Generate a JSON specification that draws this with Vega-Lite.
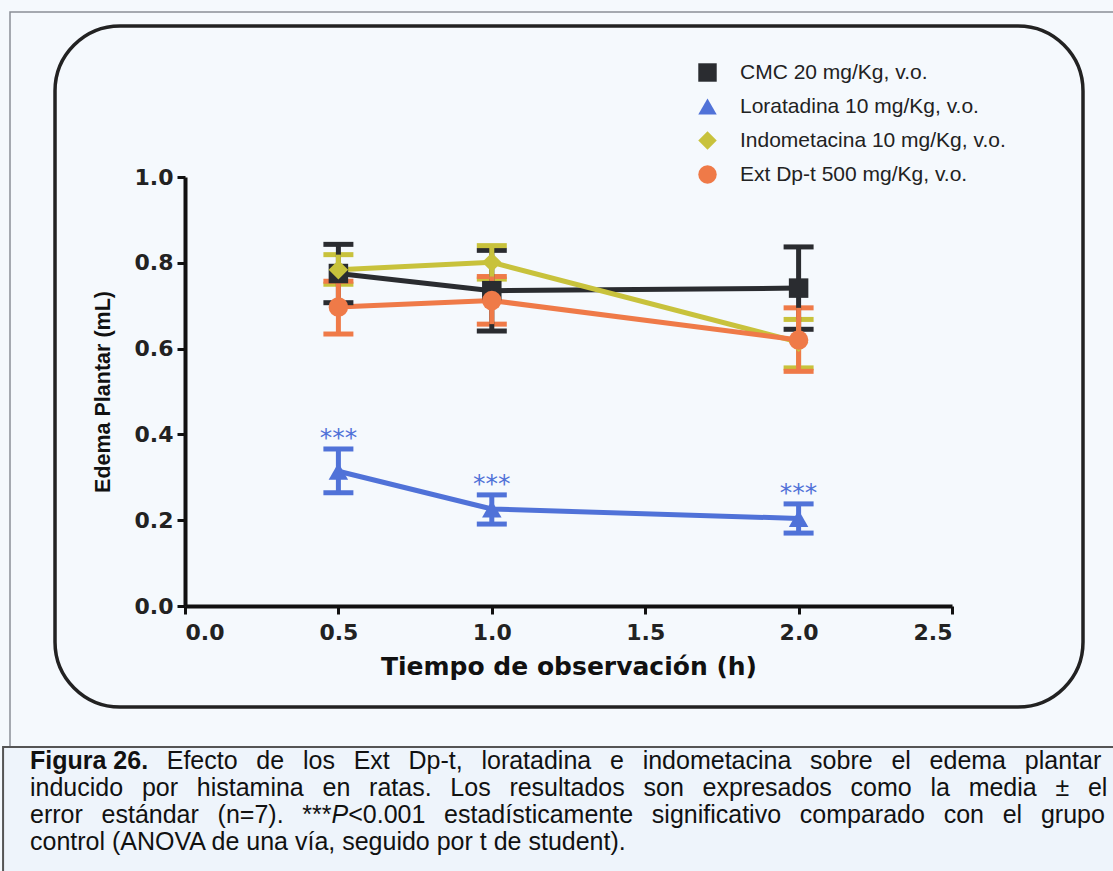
{
  "$schema": "https://vega.github.io/schema/vega-lite/v6.json",
  "width": 767,
  "height": 429,
  "autosize": {"type": "none"},
  "padding": {"left": 185, "top": 177, "right": 161, "bottom": 265},
  "background": "#f5f9fd",
  "config": {
    "view": {"stroke": null},
    "axis": {
      "grid": false,
      "domainColor": "#111111",
      "domainWidth": 4,
      "tickColor": "#111111",
      "tickWidth": 3,
      "tickSize": 8,
      "labelFont": "DejaVu Sans",
      "labelFontWeight": "bold",
      "labelFontSize": 22,
      "labelColor": "#222222",
      "titleColor": "#111111"
    }
  },
  "datasets": {
    "one": [{"k": 1}],
    "series": [
      {"grupo": "CMC 20 mg/Kg, v.o.", "t": 0.5, "media": 0.775, "lo": 0.707, "hi": 0.843},
      {"grupo": "CMC 20 mg/Kg, v.o.", "t": 1.0, "media": 0.735, "lo": 0.641, "hi": 0.829},
      {"grupo": "CMC 20 mg/Kg, v.o.", "t": 2.0, "media": 0.741, "lo": 0.645, "hi": 0.837},
      {"grupo": "Loratadina 10 mg/Kg, v.o.", "t": 0.5, "media": 0.314, "lo": 0.264, "hi": 0.366},
      {"grupo": "Loratadina 10 mg/Kg, v.o.", "t": 1.0, "media": 0.226, "lo": 0.191, "hi": 0.259},
      {"grupo": "Loratadina 10 mg/Kg, v.o.", "t": 2.0, "media": 0.204, "lo": 0.170, "hi": 0.238},
      {"grupo": "Indometacina 10 mg/Kg, v.o.", "t": 0.5, "media": 0.784, "lo": 0.750, "hi": 0.819},
      {"grupo": "Indometacina 10 mg/Kg, v.o.", "t": 1.0, "media": 0.801, "lo": 0.762, "hi": 0.840},
      {"grupo": "Indometacina 10 mg/Kg, v.o.", "t": 2.0, "media": 0.615, "lo": 0.555, "hi": 0.668},
      {"grupo": "Ext Dp-t 500 mg/Kg, v.o.", "t": 0.5, "media": 0.697, "lo": 0.634, "hi": 0.757},
      {"grupo": "Ext Dp-t 500 mg/Kg, v.o.", "t": 1.0, "media": 0.712, "lo": 0.657, "hi": 0.768},
      {"grupo": "Ext Dp-t 500 mg/Kg, v.o.", "t": 2.0, "media": 0.620, "lo": 0.547, "hi": 0.695}
    ]
  },
  "layer": [
    {
      "data": {"name": "series"},
      "mark": {"type": "line", "strokeWidth": 5},
      "encoding": {
        "x": {"field": "t", "type": "quantitative", "scale": {"domain": [0, 2.5], "nice": false},
              "axis": {"zindex": 1, "values": [0, 0.5, 1, 1.5, 2, 2.5], "format": ".1f", "title": "Tiempo de observación (h)", "titleFont": "DejaVu Sans", "titleFontWeight": "bold", "titleFontSize": 25, "titlePadding": 11, "labelPadding": 8}},
        "y": {"field": "media", "type": "quantitative", "scale": {"domain": [0, 1], "nice": false},
              "axis": {"zindex": 1, "values": [0, 0.2, 0.4, 0.6, 0.8, 1.0], "format": ".1f", "title": "Edema Plantar (mL)", "titleFont": "Liberation Sans", "titleFontWeight": "bold", "titleFontSize": 21.5, "titlePadding": 20, "labelPadding": 4}},
        "color": {"field": "grupo", "type": "nominal",
                  "scale": {"domain": ["CMC 20 mg/Kg, v.o.", "Loratadina 10 mg/Kg, v.o.", "Indometacina 10 mg/Kg, v.o.", "Ext Dp-t 500 mg/Kg, v.o."], "range": ["#2a2c30", "#5072d8", "#c8c23c", "#ef7a48"]}},
        "order": {"field": "t"}
      }
    },
    {
      "data": {"name": "one"},
      "mark": {"type": "rect", "filled": false, "stroke": "#8a8f96", "strokeWidth": 1.5},
      "encoding": {
        "x": {"datum": -0.5704, "type": "quantitative"},
        "x2": {"datum": 3.06},
        "y": {"datum": 1.3846, "type": "quantitative"},
        "y2": {"datum": -0.3287}
      }
    },
    {
      "data": {"name": "one"},
      "mark": {"type": "rect", "fill": "#eef4fb", "stroke": "#555555", "strokeWidth": 2},
      "encoding": {
        "x": {"datum": -0.593, "type": "quantitative"},
        "x2": {"datum": 3.06},
        "y": {"datum": -0.3287, "type": "quantitative"},
        "y2": {"datum": -0.65}
      }
    },
    {
      "data": {"name": "one"},
      "mark": {"type": "rect", "filled": false, "stroke": "#222222", "strokeWidth": 3.5, "cornerRadius": 65},
      "encoding": {
        "x": {"datum": -0.4237, "type": "quantitative"},
        "x2": {"datum": 2.927},
        "y": {"datum": 1.352, "type": "quantitative"},
        "y2": {"datum": -0.2354}
      }
    },
    {
      "data": {"name": "one"},
      "mark": {"type": "text", "font": "Liberation Sans", "fontWeight": "bold", "fontSize": 25, "align": "left", "baseline": "alphabetic", "color": "#111111"},
      "encoding": {
        "x": {"datum": -0.50522, "type": "quantitative"},
        "y": {"datum": -0.37995, "type": "quantitative"},
        "text": {"value": "Figura 26."}
      }
    },
    {
      "data": {"name": "one"},
      "mark": {"type": "text", "font": "Liberation Sans", "fontSize": 25, "align": "left", "baseline": "alphabetic", "color": "#111111"},
      "encoding": {
        "x": {"datum": -0.0595, "type": "quantitative"},
        "y": {"datum": -0.37995, "type": "quantitative"},
        "text": {"value": "Efecto\u2002\u2005de\u2002\u2005los\u2002\u2005Ext\u2002\u2005Dp-t,\u2002\u2005loratadina\u2002\u2005e\u2002\u2005indometacina\u2002\u2005sobre\u2002\u2005el\u2002\u2005edema\u2002\u2005plantar"}
      }
    },
    {
      "data": {"name": "one"},
      "mark": {"type": "text", "font": "Liberation Sans", "fontSize": 25, "align": "left", "baseline": "alphabetic", "color": "#111111"},
      "encoding": {
        "x": {"datum": -0.50522, "type": "quantitative"},
        "y": {"datum": -0.44289, "type": "quantitative"},
        "text": {"value": "inducido\u2002\u2005por\u2002\u2005histamina\u2002\u2005en\u2002\u2005ratas.\u2002\u2005Los\u2002\u2005resultados\u2002\u2005son\u2002\u2005expresados\u2002\u2005como\u2002\u2005la\u2002\u2005media\u2002\u2005±\u2002\u2005el"}
      }
    },
    {
      "data": {"name": "one"},
      "mark": {"type": "text", "font": "Liberation Sans", "fontSize": 25, "align": "left", "baseline": "alphabetic", "color": "#111111"},
      "encoding": {
        "x": {"datum": -0.50522, "type": "quantitative"},
        "y": {"datum": -0.50583, "type": "quantitative"},
        "text": {"value": "error\u2002\u2005estándar\u2002\u2005(n=7).\u2002\u2005***"}
      }
    },
    {
      "data": {"name": "one"},
      "mark": {"type": "text", "font": "Liberation Sans", "fontStyle": "italic", "fontSize": 25, "align": "left", "baseline": "alphabetic", "color": "#111111"},
      "encoding": {
        "x": {"datum": 0.4775, "type": "quantitative"},
        "y": {"datum": -0.50583, "type": "quantitative"},
        "text": {"value": "P"}
      }
    },
    {
      "data": {"name": "one"},
      "mark": {"type": "text", "font": "Liberation Sans", "fontSize": 25, "align": "left", "baseline": "alphabetic", "color": "#111111"},
      "encoding": {
        "x": {"datum": 0.5319, "type": "quantitative"},
        "y": {"datum": -0.50583, "type": "quantitative"},
        "text": {"value": "<0.001\u2002\u2005estadísticamente\u2002\u2005significativo\u2002\u2005comparado\u2002\u2005con\u2002\u2005el\u2002\u2005grupo"}
      }
    },
    {
      "data": {"name": "one"},
      "mark": {"type": "text", "font": "Liberation Sans", "fontSize": 25, "align": "left", "baseline": "alphabetic", "color": "#111111"},
      "encoding": {
        "x": {"datum": -0.50522, "type": "quantitative"},
        "y": {"datum": -0.56876, "type": "quantitative"},
        "text": {"value": "control (ANOVA de una vía, seguido por t de student)."}
      }
    },
    {
      "data": {"name": "series"},
      "mark": {"type": "errorbar", "thickness": 5, "opacity": 1, "ticks": {"size": 30, "opacity": 1}, "rule": {"opacity": 1}},
      "encoding": {
        "x": {"field": "t", "type": "quantitative"},
        "y": {"field": "lo", "type": "quantitative", "title": "Edema Plantar (mL)"},
        "y2": {"field": "hi"},
        "color": {"field": "grupo", "type": "nominal"}
      }
    },
    {
      "data": {"name": "series"},
      "mark": {"type": "point", "filled": true, "opacity": 1, "size": 380},
      "encoding": {
        "x": {"field": "t", "type": "quantitative"},
        "y": {"field": "media", "type": "quantitative"},
        "color": {"field": "grupo", "type": "nominal",
                  "legend": {"orient": "none", "legendX": 512, "legendY": -115, "title": null, "padding": 0,
                             "labelFont": "Liberation Sans", "labelFontSize": 21, "labelColor": "#222222", "labelLimit": 0,
                             "labelOffset": 22, "rowPadding": 12, "symbolSize": 340, "symbolStrokeWidth": 0, "symbolOpacity": 1}},
        "shape": {"field": "grupo", "type": "nominal",
                  "scale": {"domain": ["CMC 20 mg/Kg, v.o.", "Loratadina 10 mg/Kg, v.o.", "Indometacina 10 mg/Kg, v.o.", "Ext Dp-t 500 mg/Kg, v.o."], "range": ["square", "triangle-up", "diamond", "circle"]},
                  "legend": {"orient": "none", "legendX": 512, "legendY": -115, "title": null, "padding": 0,
                             "labelFont": "Liberation Sans", "labelFontSize": 21, "labelColor": "#222222", "labelLimit": 0,
                             "labelOffset": 22, "rowPadding": 12, "symbolSize": 340, "symbolStrokeWidth": 0, "symbolOpacity": 1}}
      }
    },
    {
      "data": {"name": "series"},
      "transform": [{"filter": "datum.t > 0 && indexof(datum.grupo, 'Loratadina') === 0"}],
      "mark": {"type": "text", "text": "***", "font": "DejaVu Sans", "fontSize": 25, "color": "#5072d8", "baseline": "bottom", "dy": 2},
      "encoding": {
        "x": {"field": "t", "type": "quantitative"},
        "y": {"field": "hi", "type": "quantitative"}
      }
    }
  ]
}
